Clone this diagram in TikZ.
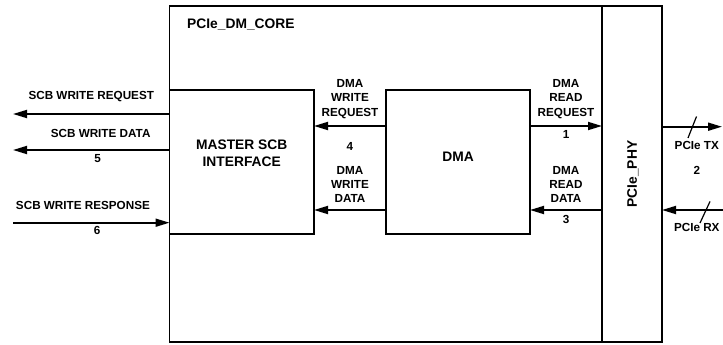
\documentclass[tikz,border=0pt]{standalone}
\usepackage{fontspec}
\setmainfont{Liberation Sans}
\usepackage{tikz}
\usetikzlibrary{arrows.meta}
\usetikzlibrary{positioning}
\tikzset{
    blockbox/.style={
        draw,
        line width=1.8pt,
        inner sep=0pt,
        outer sep=0pt,
        anchor=north west
    },
    % signal arrow between the blocks
    sigarrow/.style={
        line width=1.8pt,
        black,
        -{Triangle[length=14pt, width=8pt]}
    },
    lbl/.style={
        font=\fontsize{11.7}{14.3}\selectfont\bfseries,
        align=center,
        inner sep=0pt
    },
    bigtxt/.style={
        font=\fontsize{13.8}{17}\selectfont\bfseries,
        align=center,
        inner sep=0pt
    }
}

\begin{document}
\begin{tikzpicture}[x=1pt,y=-1pt]
    \useasboundingbox (0,0) rectangle (723,345);
    \node[blockbox, minimum width=432.5pt, minimum height=336pt] (core) at (169.5,6) {};
    \node[blockbox, minimum width=60pt, minimum height=336pt] (phy) at (core.north east) {};
    \node[blockbox, minimum width=144.5pt, minimum height=144pt] (master) at (169.5,90) {};
    \node[blockbox, minimum width=144pt, minimum height=144pt] (dma) at (386,90) {};

    \node[bigtxt, anchor=west] (coretxt) at (187,25) {PCIe\_DM\_CORE};
    \node[bigtxt] (mastertxt) at ([yshift=8.5pt]master.center) {MASTER SCB\\INTERFACE};
    \node[bigtxt] (dmatxt) at ([yshift=5pt]dma.center) {DMA};
    \node[bigtxt, rotate=90] (phytxt) at ([xshift=1pt]phy.center) {PCIe\_PHY};

    \path 
    (0,126) coordinate (wreq) (0,210) coordinate (wdat)
    (13,114) coordinate (scbreq) (13,150) coordinate (scbdat) (13,222.7) coordinate (scbrsp)
    (722,126.7) coordinate (tx) (723,210) coordinate (rx);

    \draw[sigarrow] (dma.west |- wreq) -- node[lbl, above=6.5pt] (wreqtxt) {DMA\\WRITE\\REQUEST}
        node[lbl, below=15.5pt] (n4) {4} (master.east |- wreq);
    \draw[sigarrow] (dma.west |- wdat) -- node[lbl, above=6.5pt] (wdattxt) {DMA\\WRITE\\DATA} (master.east |- wdat);
    \draw[sigarrow] (dma.east |- wreq) -- node[lbl, above=6.5pt] (rreqtxt) {DMA\\READ\\REQUEST}
        node[lbl, below=4pt] (n1) {1} (phy.west |- wreq);
    \draw[sigarrow] (phy.west |- wdat) -- node[lbl, above=6.5pt] (rdattxt) {DMA\\READ\\DATA}
        node[lbl, below=4pt] (n3) {3} (dma.east |- wdat);

    \draw[sigarrow] (master.west |- scbreq) -- node[lbl, above=11.7pt, pos=.5] (scbreqtxt) {SCB WRITE REQUEST} (scbreq);
    \draw[sigarrow] (master.west |- scbdat) -- node[lbl, above=11.7pt, pos=.44] (scbdattxt) {SCB WRITE DATA}
        node[lbl, below=4pt, pos=.46] (n5) {5} (scbdat);
    \draw[sigarrow] (scbrsp) -- node[lbl, above=11.7pt, pos=.447] (scbrsptxt) {SCB WRITE RESPONSE}
        node[lbl, below=3pt, pos=.537] (n6) {6} (master.west |- scbrsp);

    \draw[sigarrow] (phy.east |- tx) -- node[lbl, below=14pt, pos=.58] (txtxt) {PCIe TX} (tx);
    \node[lbl, below=15.5pt of txtxt] (n2) {2};
    \draw[sigarrow] (rx) -- node[lbl, below=12pt, pos=.43] (rxtxt) {PCIe RX} (phy.east |- rx);
    \draw[line width=1.2pt] (688,138) -- (696.5,116.5);
    \draw[line width=1.2pt] (700,223) -- (710,201.5);
\end{tikzpicture}
\end{document}
